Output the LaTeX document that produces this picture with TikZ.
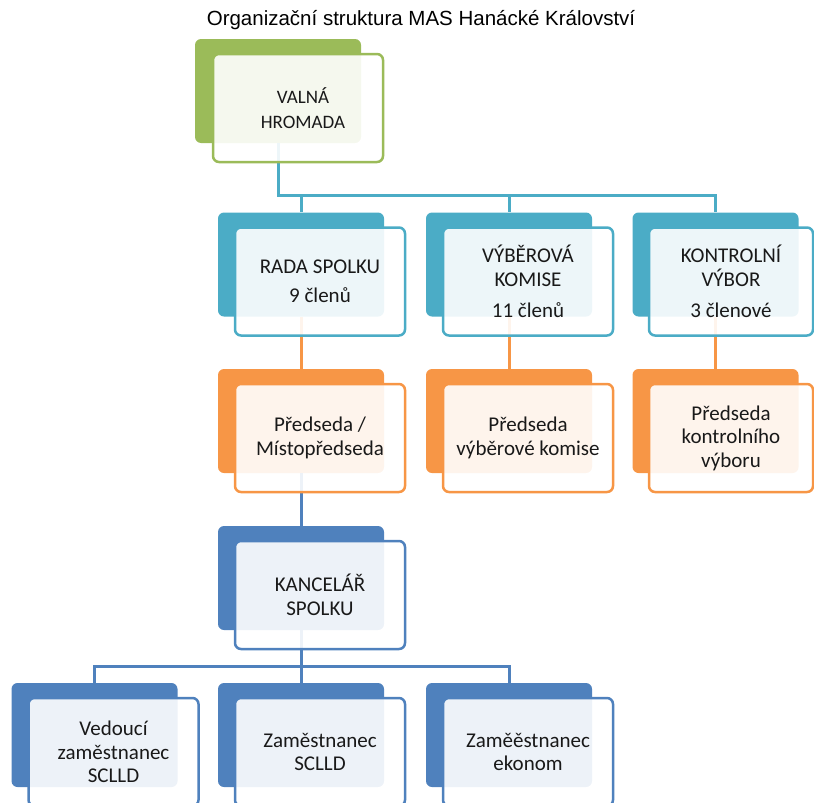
\documentclass[tikz,border=0pt]{standalone}
\usepackage{fontspec}
\setmainfont{Carlito}
\newfontfamily\titlefont{Liberation Sans}
\definecolor{leaf}{HTML}{9BBB59}
\definecolor{sea}{HTML}{4BACC6}
\definecolor{sun}{HTML}{F79646}
\definecolor{sky}{HTML}{4F81BD}
\tikzset{
chart/.style = { x = 1pt, y = -1pt, line join = miter },
card/.style = { rectangle, rounded corners = 6pt, fill = #1, minimum width = 166pt, minimum height = 104pt, inner sep = 0pt },
panel/.style = { rectangle, rounded corners = 6pt, draw = #1, line width = 2.5pt, fill = white, fill opacity = 0.9, text opacity = 1,
  minimum width = 170pt, minimum height = 108pt, align = center, text = black!90, font = \fontsize{21}{23.5}\selectfont },
link/.style = { draw = #1, line width = 3pt }
}

\begin{document}
\begin{tikzpicture}[chart]
	\useasboundingbox (0,0) rectangle (814,803);
	\node (title) at (421,20) {\titlefont\fontsize{20.5}{24}\selectfont Organizační struktura MAS Hanácké Království};
	% back cards
	\node (valna) [card=leaf] at (278,91) {};
	\node (rada) [card=sea] at (301,264.5) {};
	\node (vyber) [card=sea] at (509,264.5) {};
	\node (kontrol) [card=sea] at (715.5,264.5) {};
	\node (rada-p) [card=sun] at (301,421) {};
	\node (vyber-p) [card=sun] at (509,421) {};
	\node (kontrol-p) [card=sun] at (715.5,421) {};
	\node (kancelar) [card=sky] at (301,578) {};
	\node (vedouci) [card=sky] at (94.5,735) {};
	\node (sclld) [card=sky] at (301,735) {};
	\node (ekonom) [card=sky] at (509,735) {};
	% connectors
	\coordinate (top-bus) at (278,195);
	\coordinate (office-bus) at (301,666);
	\draw [link=sea] (valna.south) -- (top-bus) -| (rada.north);
	\draw [link=sea] (top-bus) -| (vyber.north);
	\draw [link=sea] (top-bus) -| (kontrol.north);
	\draw [link=sun] (rada.south) -- (rada-p.north);
	\draw [link=sun] (vyber.south) -- (vyber-p.north);
	\draw [link=sun] (kontrol.south) -- (kontrol-p.north);
	\draw [link=sky] (rada-p.south) -- (kancelar.north);
	\draw [link=sky] (kancelar.south) -- (office-bus) -| (vedouci.north);
	\draw [link=sky] (office-bus) -| (sclld.north);
	\draw [link=sky] (office-bus) -| (ekonom.north);
	% front panels
	\node (valna-f) [panel=leaf, font = \fontsize{19}{25}\selectfont] at (298,108) {\hspace*{10pt}VALNÁ\\\hspace*{10pt}HROMADA};
	\node (rada-f) [panel=sea] at (320,281.5) {RADA SPOLKU\\[6pt]9 členů};
	\node (vyber-f) [panel=sea] at (528,281.5) {VÝBĚROVÁ\\KOMISE\\[8pt]11 členů};
	\node (kontrol-f) [panel=sea, minimum width = 164pt] at (731,281.5) {KONTROLNÍ\\VÝBOR\\[8pt]3 členové};
	\node (rada-pf) [panel=sun] at (320,438) {Předseda /\\Místopředseda};
	\node (vyber-pf) [panel=sun] at (528,438) {Předseda\\výběrové komise};
	\node (kontrol-pf) [panel=sun, minimum width = 164pt] at (731,438) {Předseda\\kontrolního\\výboru};
	\node (kancelar-f) [panel=sky] at (320,595) {KANCELÁŘ\\SPOLKU};
	\node (vedouci-f) [panel=sky] at (113.5,752) {Vedoucí\\zaměstnanec\\SCLLD};
	\node (sclld-f) [panel=sky] at (320,752) {Zaměstnanec\\SCLLD};
	\node (ekonom-f) [panel=sky] at (528,752) {Zaměěstnanec\\ekonom};
\end{tikzpicture}
\end{document}
